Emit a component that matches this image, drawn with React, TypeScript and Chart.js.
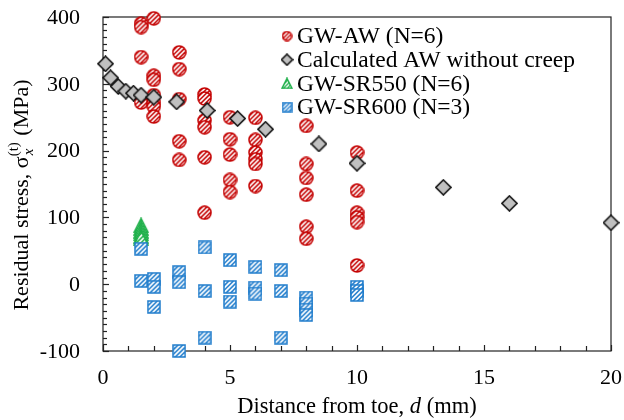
import React, { useEffect, useRef } from "react";
import { Chart, registerables } from "chart.js";

Chart.register(...registerables);

// ---- data ----
const awX = [1.5,1.5,1.5,1.5,1.5, 2,2,2,2,2,2,2, 3,3,3,3,3, 4,4,4,4,4,4, 5,5,5,5,5, 6,6,6,6,6,6, 8,8,8,8,8,8, 10,10,10,10,10,10];
const awY = [390,385,340,278,272, 398,312,306,283,272,266,251, 347,322,277,214,186, 284,278,245,235,190,107, 250,217,194,156,138, 249,216,197,187,180,147, 237,180,159,134,86,68, 197,140,107,100,93,28];

const calcX = [0.1,0.3,0.6,0.9,1.2,1.5,2.0,2.9,4.1,5.3,6.4,8.5,10,13.4,16,20];
const calcY = [330,309,296,289,286,283,280,273,260,248,232,210,181,145,121,92];

const sr550X = [1.5,1.5,1.5,1.5,1.5,1.5];
const sr550Y = [88,84,80,76,72,69];

const sr600X = [1.5,1.5, 2,2,2, 3,3,3, 4,4,4, 5,5,5, 6,6,6, 7,7,7, 8,8,8,8, 10,10,10];
const sr600Y = [53,5, 8,-4,-34, 18,3,-100, 55,-10,-80, 36,-4,-26, 26,-5,-14, 21,-10,-80, -20,-29,-38,-46, -4,-10,-16];

const legendLabels = ["GW-AW (N=6)", "Calculated AW without creep", "GW-SR550 (N=6)", "GW-SR600 (N=3)"];
const xTickLabels = [0, 5, 10, 15, 20];
const yTickLabels = [-100, 0, 100, 200, 300, 400];

const RED = "#c40000";
const BLUE = "#1f7ccc";
const GREEN = "#1fb04a";
const FONT = "'Liberation Serif', 'Times New Roman', serif";

function hatch(ctx: CanvasRenderingContext2D, w: number, h: number, spacing: number, lw: number) {
  ctx.strokeStyle = "#ffffff";
  ctx.lineWidth = lw;
  for (let k = -h; k < w + h; k += spacing) {
    ctx.beginPath();
    ctx.moveTo(k, h);
    ctx.lineTo(k + h, 0);
    ctx.stroke();
  }
}

function makeMarker(kind: string, S: number): HTMLCanvasElement {
  const c = document.createElement("canvas");
  c.width = S;
  c.height = S;
  const ctx = c.getContext("2d")!;
  const path = new Path2D();
  const m = 1;
  if (kind === "circle") {
    path.arc(S / 2, S / 2, S / 2 - m, 0, Math.PI * 2);
  } else if (kind === "square") {
    path.rect(m, m, S - 2 * m, S - 2 * m);
  } else if (kind === "triangle") {
    path.moveTo(S / 2, m);
    path.lineTo(S - m, S - m);
    path.lineTo(m, S - m);
    path.closePath();
  } else {
    path.moveTo(S / 2, m);
    path.lineTo(S - m, S / 2);
    path.lineTo(S / 2, S - m);
    path.lineTo(m, S / 2);
    path.closePath();
  }
  if (kind === "diamond") {
    ctx.fillStyle = "#c0c0c0";
    ctx.fill(path);
    ctx.strokeStyle = "#151515";
    ctx.lineWidth = 1.6;
    ctx.stroke(path);
    return c;
  }
  const col = kind === "circle" ? RED : kind === "square" ? BLUE : GREEN;
  ctx.save();
  ctx.clip(path);
  ctx.fillStyle = col;
  ctx.fillRect(0, 0, S, S);
  hatch(ctx, S, S, S > 12 ? 4.6 : 3.8, S > 12 ? 1.7 : 1.4);
  ctx.restore();
  ctx.strokeStyle = col;
  ctx.lineWidth = 1.5;
  ctx.stroke(path);
  return c;
}

const pts = (xs: number[], ys: number[]) => xs.map((x, i) => ({ x, y: ys[i] }));

export default function App() {
  const ref = useRef<HTMLCanvasElement>(null);

  useEffect(() => {
    const circle = makeMarker("circle", 15);
    const diamond = makeMarker("diamond", 17);
    const tri = makeMarker("triangle", 16);
    const square = makeMarker("square", 14);
    const legendMarkers = [makeMarker("circle", 11), makeMarker("diamond", 13), makeMarker("triangle", 12), makeMarker("square", 11)];

    const decor = {
      id: "decor",
      beforeDatasetsDraw(chart: any) {
        const { ctx, chartArea: a, scales } = chart;
        const xs = scales.x, ys = scales.y;
        ctx.save();
        ctx.strokeStyle = "#222";
        ctx.lineWidth = 1.2;
        ctx.strokeRect(a.left, a.top, a.right - a.left, a.bottom - a.top);
        // x ticks inside
        for (let v = 0; v <= 20; v += 1) {
          const px = Math.round(xs.getPixelForValue(v)) + 0.5;
          const len = v % 5 === 0 ? 6 : 5;
          ctx.beginPath();
          ctx.moveTo(px, a.bottom);
          ctx.lineTo(px, a.bottom - len);
          ctx.stroke();
        }
        // y ticks inside
        for (let v = -100; v <= 400; v += 10) {
          const py = Math.round(ys.getPixelForValue(v)) + 0.5;
          const len = v % 100 === 0 ? 6 : 4;
          ctx.beginPath();
          ctx.moveTo(a.left, py);
          ctx.lineTo(a.left + len, py);
          ctx.stroke();
        }
        ctx.fillStyle = "#000";
        ctx.font = `22px ${FONT}`;
        ctx.textBaseline = "middle";
        ctx.textAlign = "center";
        xTickLabels.forEach((v) => ctx.fillText(String(v), xs.getPixelForValue(v), a.bottom + 27));
        ctx.textAlign = "right";
        yTickLabels.forEach((v) => ctx.fillText(String(v), a.left - 23, ys.getPixelForValue(v) + 1));

        // x title
        const FS = 22.5;
        const cx = (a.left + a.right) / 2;
        const p1 = "Distance from toe, ";
        const p2 = "d";
        const p3 = " (mm)";
        ctx.font = `${FS}px ${FONT}`;
        const w1 = ctx.measureText(p1).width;
        const w3 = ctx.measureText(p3).width;
        ctx.font = `italic ${FS}px ${FONT}`;
        const w2 = ctx.measureText(p2).width;
        const x0 = cx - (w1 + w2 + w3) / 2;
        const ty = 407;
        ctx.textAlign = "left";
        ctx.font = `${FS}px ${FONT}`;
        ctx.fillText(p1, x0, ty);
        ctx.font = `italic ${FS}px ${FONT}`;
        ctx.fillText(p2, x0 + w1, ty);
        ctx.font = `${FS}px ${FONT}`;
        ctx.fillText(p3, x0 + w1 + w2, ty);

        // y title rotated
        const YF = 22;
        const q1 = "Residual stress, σ";
        const q2 = "(t)";
        const q3 = "x";
        const q4 = " (MPa)";
        ctx.font = `${YF}px ${FONT}`;
        const u1 = ctx.measureText(q1).width;
        const u4 = ctx.measureText(q4).width;
        ctx.font = `15px ${FONT}`;
        const u2 = ctx.measureText(q2).width;
        const total = u1 + u2 + u4 + 1;
        ctx.translate(21, 195);
        ctx.rotate(-Math.PI / 2);
        let s = -total / 2;
        ctx.textBaseline = "alphabetic";
        ctx.font = `${YF}px ${FONT}`;
        ctx.fillText(q1, s, 7);
        s += u1;
        ctx.font = `15px ${FONT}`;
        ctx.fillText(q2, s, -3);
        ctx.font = `italic 15px ${FONT}`;
        ctx.fillText(q3, s + 1, 12);
        s += u2 + 1;
        ctx.font = `${YF}px ${FONT}`;
        ctx.fillText(q4, s, 7);
        ctx.restore();
      },
      afterDatasetsDraw(chart: any) {
        const { ctx } = chart;
        ctx.save();
        ctx.font = `23.5px ${FONT}`;
        ctx.fillStyle = "#000";
        ctx.textBaseline = "middle";
        ctx.textAlign = "left";
        legendLabels.forEach((t, i) => {
          const y = 36 + i * 23.7;
          const m = legendMarkers[i];
          ctx.drawImage(m, 287 - m.width / 2, y - m.height / 2);
          ctx.fillText(t, 297, y + 1);
        });
        ctx.restore();
      },
    };

    const chart = new Chart(ref.current!, {
      type: "scatter",
      data: {
        datasets: [
          { label: legendLabels[1], data: pts(calcX, calcY), pointStyle: diamond as any, order: 0, clip: false as any },
          { label: legendLabels[0], data: pts(awX, awY), pointStyle: circle as any, order: 1, clip: false as any },
          { label: legendLabels[3], data: pts(sr600X, sr600Y), pointStyle: square as any, order: 2, clip: false as any },
          { label: legendLabels[2], data: pts(sr550X, sr550Y), pointStyle: tri as any, order: 3, clip: false as any },
        ],
      },
      options: {
        animation: false,
        responsive: false,
        devicePixelRatio: 1,
        layout: { padding: { left: 103, right: 13, top: 17, bottom: 69 } },
        plugins: { legend: { display: false }, tooltip: { enabled: false } },
        scales: {
          x: { type: "linear", min: 0, max: 20, display: false },
          y: { type: "linear", min: -100, max: 400, display: false },
        },
      },
      plugins: [decor],
    });
    return () => chart.destroy();
  }, []);

  return (
    <div style={{ position: "fixed", left: 0, top: 0, width: 624, height: 420, background: "#fff" }}>
      <canvas ref={ref} width={624} height={420} style={{ width: 624, height: 420 }} />
    </div>
  );
}
